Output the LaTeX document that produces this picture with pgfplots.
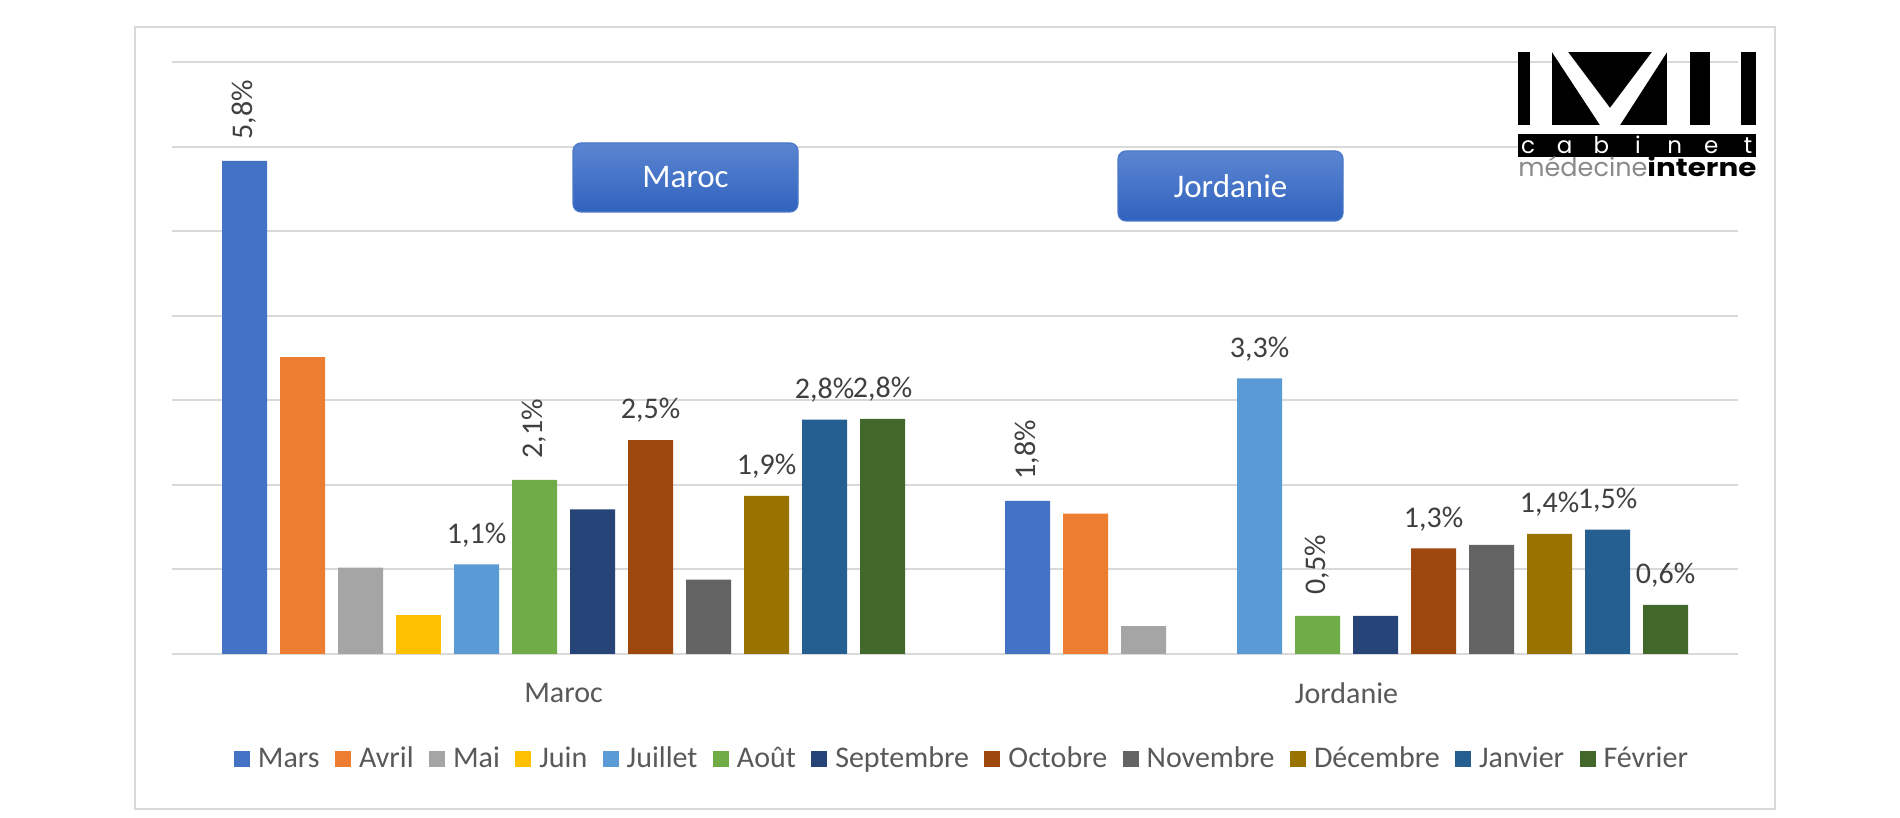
\documentclass[border=0pt]{standalone}
\usepackage{fontspec}
\setmainfont{Carlito}
\newfontfamily\poppins{Poppins}
\usepackage{graphicx}
\usepackage{pgfplots}
\pgfplotsset{compat=1.18}
\definecolor{cMars}{HTML}{4472C4}
\definecolor{cAvril}{HTML}{ED7D31}
\definecolor{cMai}{HTML}{A5A5A5}
\definecolor{cJuin}{HTML}{FFC000}
\definecolor{cJuil}{HTML}{5B9BD5}
\definecolor{cAout}{HTML}{70AD47}
\definecolor{cSept}{HTML}{264478}
\definecolor{cOct}{HTML}{9E480E}
\definecolor{cNov}{HTML}{636363}
\definecolor{cDec}{HTML}{997300}
\definecolor{cJan}{HTML}{255E91}
\definecolor{cFev}{HTML}{43682B}
\definecolor{gridc}{HTML}{D9D9D9}
\definecolor{labc}{HTML}{595959}
\definecolor{datac}{HTML}{404040}
\definecolor{boxtop}{HTML}{5B85D1}
\definecolor{boxbot}{HTML}{3063BE}
\definecolor{boxborder}{HTML}{4A78C8}
\definecolor{logogray}{HTML}{8A8A8A}
\pgfplotsset{
  hlab/.style={nodes near coords, point meta=explicit symbolic,
    every node near coord/.append style={font=\fontsize{15}{18}\selectfont, text=datac, inner sep=0pt, anchor=south, yshift=8.5pt}},
  vlab/.style={nodes near coords, point meta=explicit symbolic,
    every node near coord/.append style={font=\fontsize{15}{18}\selectfont, text=datac, inner sep=0pt, yshift=10.5pt, rotate=90, anchor=west}},
}
\begin{document}
\begin{tikzpicture}[x=1pt,y=1pt]
\fill[white] (0,0) rectangle (950,409);
\draw[gridc, line width=1pt] (67.5,4.5) rectangle (887.5,395.5);
\begin{axis}[
  at={(86pt,82pt)}, anchor=south west, scale only axis,
  width=783pt, height=296pt,
  xmin=-0.5, xmax=1.5, ymin=0, ymax=7,
  ybar=6.5pt, bar width=22.5pt,
  xtick={0,1}, xticklabels={Maroc,Jordanie},
  ytick={0,1,...,7}, yticklabels={},
  ymajorgrids, major grid style={draw=gridc, line width=1pt},
  axis line style={draw=none}, major tick length=0pt, tick style={draw=none},
  xticklabel style={font=\fontsize{15}{18}\selectfont, text=labc, anchor=center, yshift=-19.5pt},
  legend style={at={(0.5038,-0.1774)}, anchor=center, draw=none, fill=none,
    font=\fontsize{15}{18}\selectfont, text=labc,
    nodes={inner xsep=0pt},
    /tikz/every odd column/.style={column sep=4pt},
    /tikz/every even column/.style={column sep=7.7pt}},
  legend columns=-1,
  legend image code/.code={\fill[#1] (0pt,-4pt) rectangle (8pt,4pt);},
]
\addplot[fill=cMars, draw=none, vlab] coordinates {(0,5.83) [5,8\%] (1,1.81) [1,8\%]};
\addplot[fill=cAvril, draw=none] coordinates {(0,3.51) (1,1.66)};
\addplot[fill=cMai, draw=none] coordinates {(0,1.02) (1,0.33)};
\addplot[fill=cJuin, draw=none] coordinates {(0,0.46)};
\addplot[fill=cJuil, draw=none, hlab] coordinates {(0,1.06) [1,1\%] (1,3.26) [3,3\%]};
\addplot[fill=cAout, draw=none, vlab] coordinates {(0,2.06) [2,1\%] (1,0.45) [0,5\%]};
\addplot[fill=cSept, draw=none] coordinates {(0,1.71) (1,0.45)};
\addplot[fill=cOct, draw=none, hlab] coordinates {(0,2.53) [2,5\%] (1,1.25) [1,3\%]};
\addplot[fill=cNov, draw=none] coordinates {(0,0.88) (1,1.29)};
\addplot[fill=cDec, draw=none, hlab] coordinates {(0,1.87) [1,9\%] (1,1.42) [1,4\%]};
\addplot[fill=cJan, draw=none, hlab] coordinates {(0,2.77) [2,8\%] (1,1.47) [1,5\%]};
\addplot[fill=cFev, draw=none, hlab] coordinates {(0,2.78) [2,8\%] (1,0.58) [0,6\%]};
\legend{Mars,Avril,Mai,Juin,Juillet,Août,Septembre,Octobre,Novembre,Décembre,Janvier,Février}
\end{axis}
% title boxes
\node[draw=boxborder, line width=0.6pt, rounded corners=4pt, top color=boxtop, bottom color=boxbot,
  minimum width=112.5pt, minimum height=34.5pt, inner sep=0pt, text=white,
  font=\fontsize{16.5}{19}\selectfont] at (342.75,320.25) {Maroc};
\node[draw=boxborder, line width=0.6pt, rounded corners=4pt, top color=boxtop, bottom color=boxbot,
  minimum width=112.5pt, minimum height=35pt, inner sep=0pt, text=white,
  font=\fontsize{16.5}{19}\selectfont] at (615.25,316) {Jordanie};
% logo
\fill[black] (759,346.5) rectangle (765,383);
\fill[black] (776,346.5) rectangle (833.5,383);
\fill[white] (776,383) -- (784,383) -- (805,355) -- (826,383) -- (833.5,383) -- (810,346.5) -- (800,346.5) -- cycle;
\fill[black] (845,346.5) rectangle (855,383);
\fill[black] (870.5,346.5) rectangle (878,383);
\fill[black] (759,330.5) rectangle (878,342);
\foreach \l [count=\i from 0] in {c,a,b,i,n,e,t}
  \node[anchor=base, inner sep=0pt, text=white, font=\poppins\fontsize{11.5}{13}\selectfont] at (764+\i*18.33,332.3) {\l};
\node[anchor=base west, inner sep=0pt, text=logogray] at (759,320.5) {\resizebox{64.5pt}{10pt}{\poppins médecine}};
\node[anchor=base west, inner sep=0pt, text=black] at (823.5,320.5) {\resizebox{54.5pt}{10pt}{\poppins\bfseries interne}};
\end{tikzpicture}
\end{document}
